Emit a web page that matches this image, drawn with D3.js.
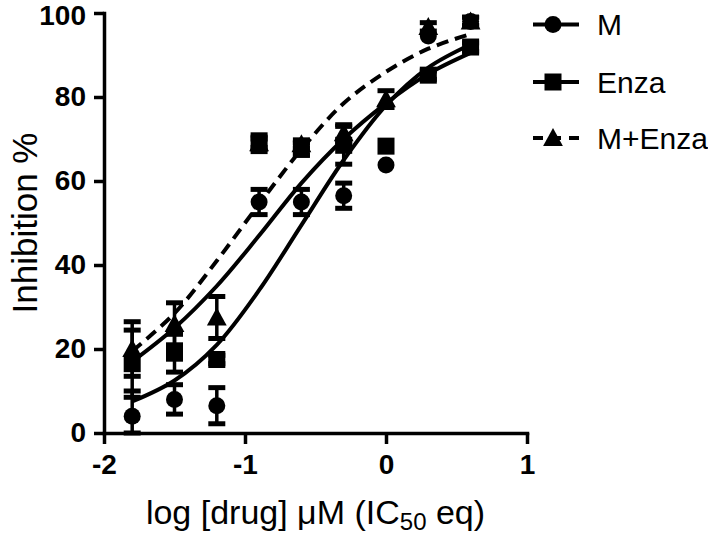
<!DOCTYPE html>
<html>
<head>
<meta charset="utf-8">
<script src="https://cdn.jsdelivr.net/npm/d3@7"></script>
<style>
  html, body { margin: 0; padding: 0; background: #fff; }
  svg { display: block; }
  text { font-family: "Liberation Sans", Arial, Helvetica, sans-serif; fill: #000; }
</style>
</head>
<body>
<script>
// ---- data ----
const xVals = [-1.8, -1.5, -1.2, -0.9, -0.6, -0.3, 0, 0.3, 0.6];
const seriesNames = ["M", "Enza", "M+Enza"];
const mMean     = [4, 8, 6.5, 55, 55, 56.5, 63.8, 94.5, 98];
const mErr      = [6, 3.5, 4.3, 3, 3, 3, 0, 0, 1];
const enzaMean  = [16.5, 19, 17.5, 69, 67.6, 68.5, 68.3, 85.2, 91.9];
const enzaErr   = [8, 4.5, 1, 2, 1.5, 4.5, 0, 1, 1];
const comboMean = [20, 26, 27.5, 69, 68.8, 71.4, 79.5, 96.7, 98];
const comboErr  = [6.5, 5, 5, 1, 1, 2, 2, 1, 1];
// fitted curves, read at the same doses
const mFit      = [7.5, 12.5, 21, 34, 49.5, 65, 78, 87, 92.5];
const enzaFit   = [17, 25, 35, 47, 59.5, 70, 78.5, 85.5, 90.5];
const comboFit  = [19.5, 28.5, 41, 54.5, 67.5, 78.5, 86, 91.5, 95];
const xTicks = [-2, -1, 0, 1];
const yTicks = [0, 20, 40, 60, 80, 100];

const W = 708, H = 537;
const svg = d3.select("body").append("svg").attr("width", W).attr("height", H);

const x = d3.scaleLinear().domain([-2, 1]).range([104, 527]);
const y = d3.scaleLinear().domain([0, 100]).range([433, 13]);

// ---- fitted curves ----
const line = d3.line().x(d => x(d[0])).y(d => y(d[1])).curve(d3.curveCatmullRom.alpha(0.5));
const curves = [
  { vals: mFit, dash: null },
  { vals: enzaFit, dash: null },
  { vals: comboFit, dash: "12,7" }
];
curves.forEach(c => {
  svg.append("path")
    .attr("d", line(xVals.map((v, i) => [v, c.vals[i]])))
    .attr("fill", "none").attr("stroke", "#000").attr("stroke-width", 4)
    .attr("stroke-dasharray", c.dash);
});

// ---- markers ----
const triPath = (cx, cy, s) => `M${cx},${cy - s * 0.55}L${cx + s * 0.55},${cy + s * 0.45}L${cx - s * 0.55},${cy + s * 0.45}Z`;
function drawMarker(g, shape, cx, cy) {
  if (shape === "circle") g.append("circle").attr("cx", cx).attr("cy", cy).attr("r", 8.5).attr("fill", "#000");
  else if (shape === "square") g.append("rect").attr("x", cx - 8.5).attr("y", cy - 8.5).attr("width", 17).attr("height", 17).attr("fill", "#000");
  else g.append("path").attr("d", triPath(cx, cy, 18)).attr("fill", "#000");
}
const series = [
  { mean: comboMean, err: comboErr, shape: "triangle" },
  { mean: enzaMean, err: enzaErr, shape: "square" },
  { mean: mMean, err: mErr, shape: "circle" }
];
series.forEach(s => {
  const g = svg.append("g");
  xVals.forEach((xv, i) => {
    const cx = x(xv);
    const m = s.mean[i], e = s.err[i];
    if (e > 0) {
      const lo = Math.max(0, m - e), hi = Math.min(100, m + e);
      g.append("line").attr("x1", cx).attr("x2", cx).attr("y1", y(lo)).attr("y2", y(hi))
        .attr("stroke", "#000").attr("stroke-width", 3.5);
      [lo, hi].forEach(v => {
        g.append("line").attr("x1", cx - 8.5).attr("x2", cx + 8.5).attr("y1", y(v)).attr("y2", y(v))
          .attr("stroke", "#000").attr("stroke-width", 5);
      });
    }
    drawMarker(g, s.shape, cx, y(m));
  });
});

// ---- axes ----
const yAxis = svg.append("g").attr("transform", `translate(${x(-2)},0)`)
  .call(d3.axisLeft(y).tickValues(yTicks).tickSize(10).tickSizeOuter(0).tickPadding(8));
const xAxis = svg.append("g").attr("transform", `translate(0,${y(0)})`)
  .call(d3.axisBottom(x).tickValues(xTicks).tickSize(11).tickSizeOuter(0).tickPadding(10).tickFormat(d => String(d)));
[yAxis, xAxis].forEach(a => {
  a.select(".domain").attr("stroke", "#000").attr("stroke-width", 3.5).attr("stroke-linecap", "square");
  a.selectAll(".tick line").attr("stroke", "#000").attr("stroke-width", 3.5);
  a.selectAll(".tick text").attr("font-size", 28).attr("font-weight", "bold")
    .style("font-family", "'Liberation Sans', Arial, sans-serif").attr("fill", "#000");
});
yAxis.selectAll(".tick text").filter(d => d === 100).attr("dy", "0.4em");

// ---- axis titles ----
svg.append("text")
  .attr("transform", `translate(37,${(y(0) + y(100)) / 2}) rotate(-90)`)
  .attr("text-anchor", "middle").attr("font-size", 35)
  .text("Inhibition %");
const xt = svg.append("text")
  .attr("x", (x(-2) + x(1)) / 2).attr("y", 524)
  .attr("text-anchor", "middle").attr("font-size", 34);
xt.append("tspan").text("log [drug] \u03bcM (IC");
xt.append("tspan").attr("font-size", 24).attr("dy", 6).text("50");
xt.append("tspan").attr("dy", -6).text(" eq)");

// ---- legend ----
const legRows = [24.5, 82, 138];
const legShapes = ["circle", "square", "triangle"];
const legDash = [null, null, "10,8"];
seriesNames.forEach((name, i) => {
  const g = svg.append("g");
  const ly = legRows[i];
  g.append("line").attr("x1", 533).attr("x2", 579).attr("y1", ly).attr("y2", ly)
    .attr("stroke", "#000").attr("stroke-width", 4).attr("stroke-dasharray", legDash[i]);
  drawMarker(g, legShapes[i], 553, ly);
  g.append("text").attr("x", 597).attr("y", ly).attr("dy", "0.36em")
    .attr("font-size", 30).text(name);
});
</script>
</body>
</html>
